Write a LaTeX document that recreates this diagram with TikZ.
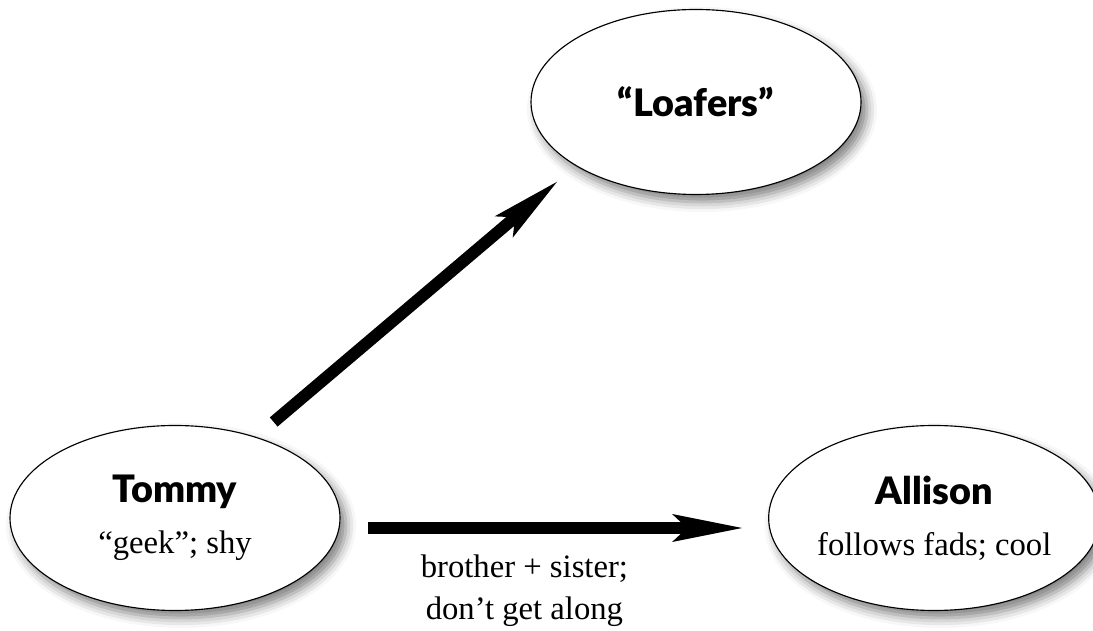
\documentclass[tikz,border=0pt]{standalone}
\usepackage{fontspec}
\setmainfont{Liberation Serif}
\newfontfamily\namefont{Lato Black}
\usetikzlibrary{positioning,arrows.meta,shapes.geometric,shadows.blur}
\newcommand{\nm}[1]{{\namefont\fontsize{21.5}{29}\selectfont #1}}

\begin{document}
\begin{tikzpicture}[font=\fontsize{18.6}{29}\selectfont,>={Stealth[length=1.4cm,width=0.56cm,inset=0.3cm,line width=0pt]},
  el/.style={ellipse,draw,line width=0.65pt,fill=white,minimum width=6.6cm,minimum height=3.7cm,inner sep=0pt,align=center,
    blur shadow={shadow xshift=0.12cm,shadow yshift=-0.15cm,shadow blur radius=0.2cm,shadow opacity=50}},
  link/.style={->,line width=0.24cm}]
\useasboundingbox (0,0) rectangle (21.86,12.62);
\node[el](tommy) at (3.5,2.26){\nm{Tommy}\\“geek”; shy};
\node[el,minimum width=6.5cm,right=8.55cm of tommy](allison){\nm{Allison}\\follows fads; cool};
\node[el](loafers) at (13.92,10.58){\nm{“Loafers”}};
\draw[link,shorten >=0.49cm,shorten <=0.46cm](tommy.45)--(loafers.208);
\draw[link,shorten >=0.52cm,shorten <=0.54cm]([yshift=-0.2cm]tommy.east)--([yshift=-0.2cm]allison.west)
  node[pos=0.43,below=0.3cm,align=center,font=\fontsize{18.6}{24}\selectfont]{brother + sister;\\don’t get along};
\end{tikzpicture}
\end{document}
